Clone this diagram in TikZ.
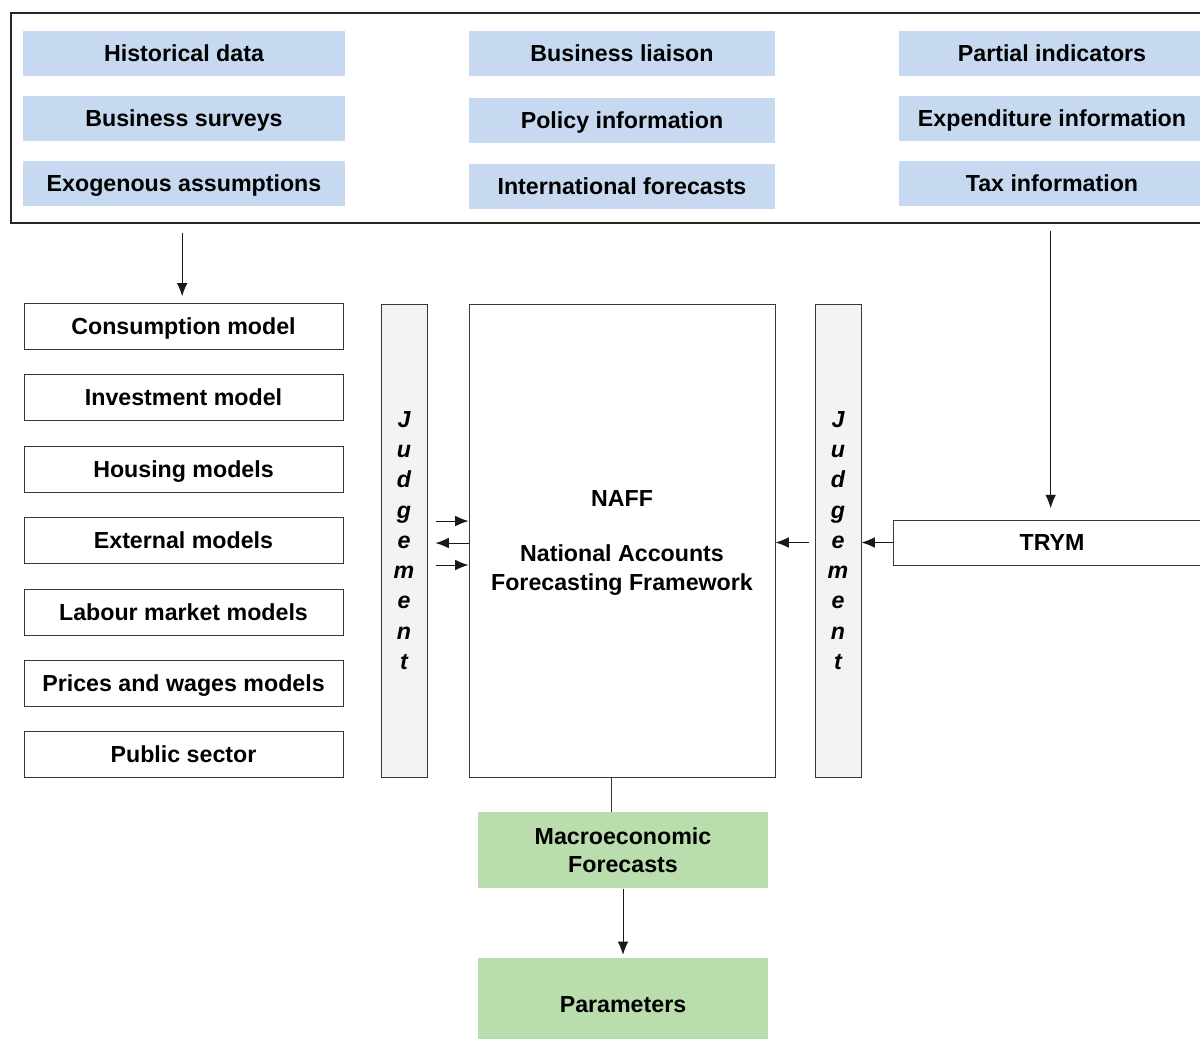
\documentclass[tikz,border=0pt]{standalone}
\usepackage{fontspec}
\setmainfont{Liberation Sans}
\usetikzlibrary{arrows.meta}

\definecolor{srcblue}{RGB}{198,217,240}
\definecolor{resgreen}{RGB}{185,221,172}
\definecolor{judgegray}{RGB}{242,243,242}
\definecolor{edgegray}{RGB}{55,55,55}

\tikzset{every picture/.style={line width=0.75pt}}
\tikzset{
  lbl/.style={font=\bfseries\fontsize{17.4}{21}\selectfont, inner sep=0pt, align=center},
  oneline/.style={lbl, text height=12.5pt, text depth=0pt},
  srcbox/.style={oneline, fill=srcblue, minimum height=33.75pt},
  modelbox/.style={oneline, draw=edgegray, minimum width=239.25pt, minimum height=34.5pt},
  judgebox/.style={draw=edgegray, fill=judgegray, minimum width=34.5pt, minimum height=354.75pt, inner sep=0pt, align=center, font=\bfseries\itshape\fontsize{17.4}{22.7}\selectfont},
  resbox/.style={lbl, fill=resgreen, minimum width=217.5pt},
  arr/.style={draw=black!90, -{Latex[length=10pt,width=8pt]}}
}

\begin{document}
\begin{tikzpicture}[x=0.75pt,y=0.75pt,yscale=-1,xscale=1]
\clip (0,0) rectangle (1200,1039);

%Shape: Rectangle (input frame)
\node [draw=black!85, line width=1.5pt, minimum width=903pt, minimum height=157.5pt, inner sep=0pt] (frame) at (613,118) {};

% Text Node
\node [srcbox, minimum width=241.5pt] (hist) at (184,53.5) {Historical data};
% Text Node
\node [srcbox, minimum width=241.5pt] (surv) at (184,118.5) {Business surveys};
% Text Node
\node [srcbox, minimum width=241.5pt] (exog) at (184,183.5) {Exogenous assumptions};
% Text Node
\node [srcbox, minimum width=229.5pt] (liais) at (622,53.5) {Business liaison};
% Text Node
\node [srcbox, minimum width=229.5pt] (policy) at (622,120.5) {Policy information};
% Text Node
\node [srcbox, minimum width=229.5pt] (intl) at (622,186.5) {International forecasts};
% Text Node
\node [srcbox, minimum width=229.5pt] (partial) at (1052,53.5) {Partial indicators};
% Text Node
\node [srcbox, minimum width=229.5pt] (expend) at (1052,118.5) {Expenditure information};
% Text Node
\node [srcbox, minimum width=229.5pt] (tax) at (1052,183.5) {Tax information};

% Text Node
\node [modelbox] (cons) at (183.5,326.5) {Consumption model};
% Text Node
\node [modelbox] (invest) at (183.5,397.5) {Investment model};
% Text Node
\node [modelbox] (housing) at (183.5,469) {Housing models};
% Text Node
\node [modelbox] (extern) at (183.5,540) {External models};
% Text Node
\node [modelbox] (labour) at (183.5,612) {Labour market models};
% Text Node
\node [modelbox] (prices) at (183.5,683) {Prices and wages models};
% Text Node
\node [modelbox] (public) at (183.5,754) {Public sector};

% Text Node
\node [judgebox] (judgeL) at (404,540.5) {J\\u\\d\\g\\e\\m\\e\\n\\t};
% Text Node
\node [judgebox] (judgeR) at (838,540.5) {J\\u\\d\\g\\e\\m\\e\\n\\t};
% Text Node
\node [lbl, draw=edgegray, minimum width=229.5pt, minimum height=354.75pt, font=\bfseries\fontsize{17.4}{21.75}\selectfont, text depth=0pt] (naff) at (622,540.5) {NAFF\\[20pt]National Accounts\\Forecasting Framework};
% Text Node
\node [modelbox, minimum width=238.5pt, minimum height=33.75pt] (trym) at (1052,542.5) {TRYM};

% Text Node
\node [resbox, minimum height=57pt, text depth=0pt] (macro) at (623,850) {Macroeconomic\\Forecasts};
% Text Node
\node [resbox, oneline, minimum height=69pt] (params) at (623,1004) {Parameters};

%Straight Lines
\draw [arr, shorten <=7pt, shorten >=5pt] ([xshift=-1pt]cons.north |- frame.south) -- ([xshift=-1pt]cons.north);
%Straight Lines
\draw [arr, shorten <=5pt, shorten >=8.5pt] ([xshift=-1pt]trym.north |- frame.south) -- ([xshift=-1pt]trym.north);
%Straight Lines
\draw [arr, shorten <=6pt] ([yshift=-14.6pt]judgeL.east) -- ([yshift=-14.6pt]judgeL.east -| naff.west);
%Straight Lines
\draw [arr, shorten >=6pt] ([yshift=1.9pt]judgeL.east -| naff.west) -- ([yshift=1.9pt]judgeL.east);
%Straight Lines
\draw [arr, shorten <=6pt] ([yshift=18.4pt]judgeL.east) -- ([yshift=18.4pt]judgeL.east -| naff.west);
%Straight Lines
\draw [arr, shorten <=4.5pt] (trym.west -| judgeR.west) -- (trym.west -| naff.east);
%Straight Lines
\draw [arr] (trym.west) -- (trym.west -| judgeR.east);
%Straight Lines
\draw [draw=edgegray] ([xshift=-8pt]naff.south) -- ([xshift=-8pt]naff.south |- macro.north);
%Straight Lines
\draw [arr, shorten >=2pt] (macro.south) -- (params.north);

\end{tikzpicture}
\end{document}
